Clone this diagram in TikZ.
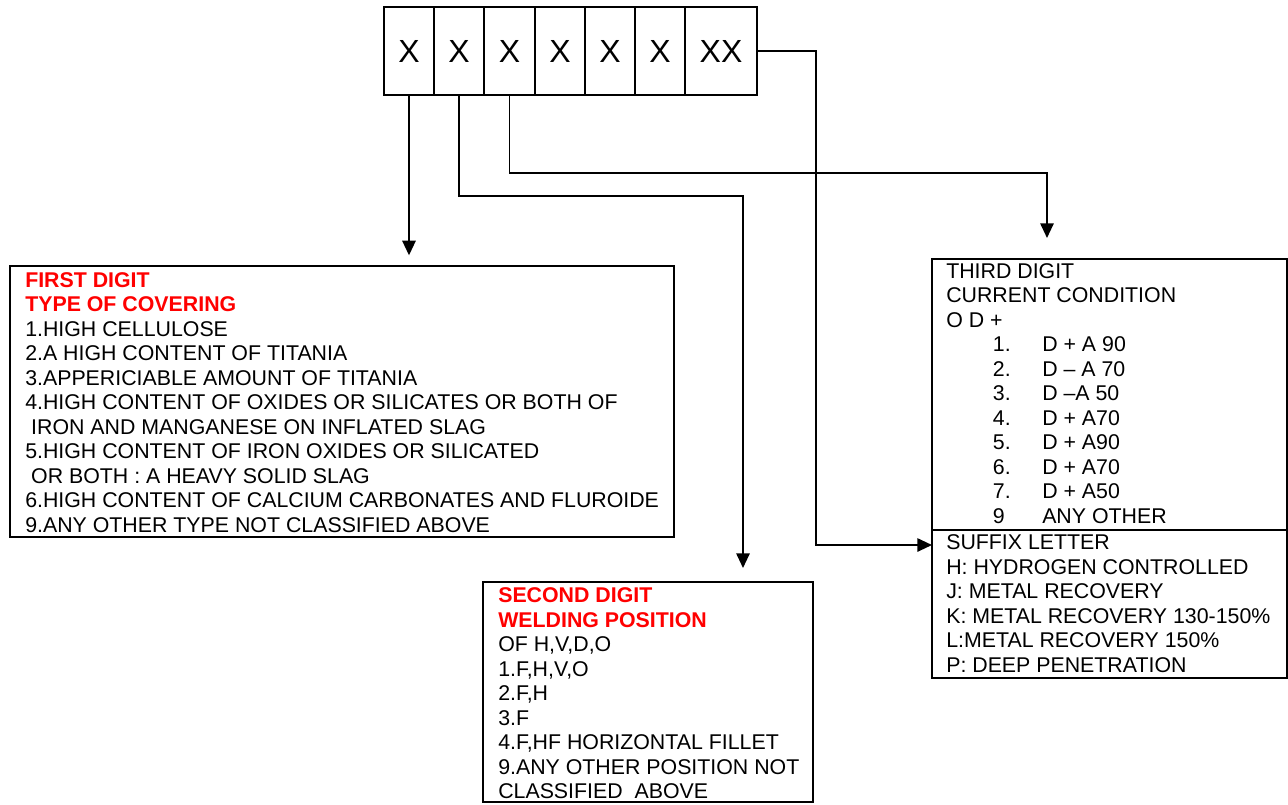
\documentclass[tikz,border=0pt]{standalone}
\usepackage{xcolor}
\usepackage{fontspec}
\setmainfont{Liberation Sans}
\usepackage{tikz}
\usetikzlibrary{calc}
\usetikzlibrary{arrows.meta}
\usetikzlibrary{positioning}
\tikzset{>={Triangle[length=11pt,width=10pt]}}
\definecolor{headred}{RGB}{255,0,0}
\tikzstyle{digit} = [draw, line width=1.4pt, inner sep=0, outer sep=0, minimum width=37.5pt, minimum height=66pt, font=\fontsize{24}{28}\selectfont]
\tikzstyle{panel} = [draw, line width=1.4pt, inner sep=0, outer sep=0, anchor=north west]
\tikzstyle{listing} = [anchor=north west, inner sep=0, align=left, font=\fontsize{16}{18.4}\selectfont]
\tikzstyle{link} = [-, line width=1.4pt]
\newcommand{\condline}[2]{\hspace*{35pt}\makebox[37pt][l]{#1}#2}
\newcommand{\headline}[1]{\textcolor{headred}{\bfseries #1}}

\begin{document}
\begin{tikzpicture}[x=0.75pt, y=-0.75pt]
\useasboundingbox (0,0) rectangle (1288,804);
% code digits
\node [digit] (d1) at (409,51) {X};
\node [digit, right=0pt of d1] (d2) {X};
\node [digit, right=0pt of d2, minimum width=38.25pt] (d3) {X};
\node [digit, right=0pt of d3] (d4) {X};
\node [digit, right=0pt of d4] (d5) {X};
\node [digit, right=0pt of d5] (d6) {X};
\node [digit, right=0pt of d6, minimum width=54pt] (dxx) {XX};

% panels
\node [panel, minimum width=498pt, minimum height=203.25pt] (firstbox) at (10,266) {};
\node [panel, minimum width=247.5pt, minimum height=165pt] (secondbox) at (483,582) {};
\node [panel, minimum width=266.25pt, minimum height=203.25pt] (thirdbox) at (932,259) {};
\node [panel, below=0pt of thirdbox, minimum width=266.25pt, minimum height=111pt] (suffixbox) {};

\node [listing] (firsttext) at ($(firstbox.north west)+(15,6)$) {\headline{FIRST DIGIT}\\
\headline{TYPE OF COVERING}\\
1.HIGH CELLULOSE\\
2.A HIGH CONTENT OF TITANIA\\
3.APPERICIABLE AMOUNT OF TITANIA\\
4.HIGH CONTENT OF OXIDES OR SILICATES OR BOTH OF\\
\ IRON AND MANGANESE ON INFLATED SLAG\\
5.HIGH CONTENT OF IRON OXIDES OR SILICATED\\
\ OR BOTH : A HEAVY SOLID SLAG\\
6.HIGH CONTENT OF CALCIUM CARBONATES AND FLUROIDE\\
9.ANY OTHER TYPE NOT CLASSIFIED ABOVE};

\node [listing] (secondtext) at ($(secondbox.north west)+(15,5.5)$) {\headline{SECOND DIGIT}\\
\headline{WELDING POSITION}\\
OF H,V,D,O\\
1.F,H,V,O\\
2.F,H\\
3.F\\
4.F,HF HORIZONTAL FILLET\\
9.ANY OTHER POSITION NOT\\
CLASSIFIED\ \ ABOVE};

\node [listing] (thirdtext) at ($(thirdbox.north west)+(14,4)$) {THIRD DIGIT\\
CURRENT CONDITION\\
O D +\\
\condline{1.}{D + A 90}\\
\condline{2.}{D – A 70}\\
\condline{3.}{D –A 50}\\
\condline{4.}{D + A70}\\
\condline{5.}{D + A90}\\
\condline{6.}{D + A70}\\
\condline{7.}{D + A50}\\
\condline{9}{ANY OTHER}};

\node [listing] (suffixtext) at ($(suffixbox.north west)+(14,4.5)$) {SUFFIX LETTER\\
H: HYDROGEN CONTROLLED\\
J: METAL RECOVERY\\
K: METAL RECOVERY 130-150\%\\
L:METAL RECOVERY 150\%\\
P: DEEP PENETRATION};

% connectors
\coordinate (c2) at (743,196);
\coordinate (c3) at (1047,173);
\coordinate (c4) at (816,545);
\draw [link, ->, shorten >=8pt] (d1.south) -- (d1.south |- firstbox.north);
\draw [link, ->, shorten >=10.5pt] (d2.south) |- (c2) -- (c2 |- secondbox.north);
\draw [link, ->, shorten >=15.75pt] (d3.south) |- (c3) -- (c3 |- thirdbox.north);
\draw [link, ->] (dxx.east) -| (c4) -- (c4 -| suffixbox.west);
\end{tikzpicture}
\end{document}
